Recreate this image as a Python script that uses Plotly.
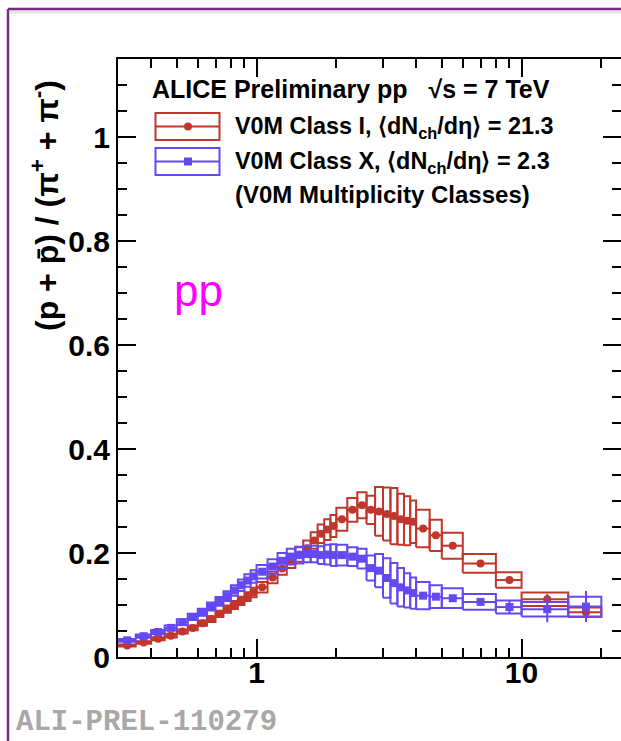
import numpy as np
import plotly.graph_objects as go

# pT bin edges (GeV/c)
pt_lo = [0.30, 0.35, 0.40, 0.45, 0.50, 0.55, 0.60, 0.65, 0.70, 0.75, 0.80, 0.85, 0.90, 0.95,
         1.0, 1.1, 1.2, 1.3, 1.4, 1.5, 1.6, 1.7, 1.8, 1.9,
         2.0, 2.2, 2.4, 2.6, 2.8, 3.0, 3.2, 3.4, 3.6, 3.8,
         4.0, 4.5, 5.0, 6.0, 8.0, 10.0, 15.0]
pt_hi = [0.35, 0.40, 0.45, 0.50, 0.55, 0.60, 0.65, 0.70, 0.75, 0.80, 0.85, 0.90, 0.95, 1.00,
         1.1, 1.2, 1.3, 1.4, 1.5, 1.6, 1.7, 1.8, 1.9, 2.0,
         2.2, 2.4, 2.6, 2.8, 3.0, 3.2, 3.4, 3.6, 3.8, 4.0,
         4.5, 5.0, 6.0, 8.0, 10.0, 15.0, 20.0]

# V0M Class I, <dNch/deta> = 21.3
ratio_I = [0.022, 0.028, 0.035, 0.041, 0.049, 0.056, 0.065, 0.073, 0.083, 0.092, 0.100, 0.108, 0.116, 0.124,
           0.134, 0.153, 0.170, 0.184, 0.197, 0.209, 0.224, 0.237, 0.245, 0.252,
           0.265, 0.283, 0.292, 0.283, 0.280, 0.275, 0.271, 0.265, 0.262, 0.260,
           0.247, 0.234, 0.214, 0.180, 0.148, 0.111, 0.086]
sys_I = [0.0020, 0.0025, 0.0030, 0.0035, 0.0040, 0.0045, 0.0050, 0.0055, 0.0060, 0.0070, 0.0075, 0.0080, 0.0085, 0.0090,
         0.010, 0.011, 0.012, 0.013, 0.014, 0.015, 0.016, 0.018, 0.020, 0.021,
         0.022, 0.023, 0.025, 0.027, 0.047, 0.051, 0.054, 0.049, 0.047, 0.041,
         0.036, 0.030, 0.025, 0.018, 0.015, 0.013, 0.009]
stat_I = [0.0] * 38 + [0.006, 0.010, 0.015]

# V0M Class X, <dNch/deta> = 2.3
ratio_X = [0.032, 0.040, 0.048, 0.056, 0.067, 0.077, 0.086, 0.097, 0.107, 0.117, 0.128, 0.138, 0.147, 0.155,
           0.164, 0.174, 0.185, 0.193, 0.196, 0.198, 0.198, 0.196, 0.197, 0.196,
           0.196, 0.193, 0.189, 0.171, 0.166, 0.152, 0.142, 0.134, 0.128, 0.123,
           0.118, 0.116, 0.113, 0.106, 0.096, 0.092, 0.097]
sys_X = [0.0026, 0.0032, 0.0038, 0.0045, 0.0054, 0.0060, 0.0069, 0.0078, 0.0086, 0.0094, 0.010, 0.011, 0.012, 0.012,
         0.013, 0.014, 0.015, 0.015, 0.016, 0.016, 0.016, 0.017, 0.019, 0.021,
         0.020, 0.018, 0.019, 0.024, 0.032, 0.038, 0.039, 0.037, 0.033, 0.030,
         0.026, 0.022, 0.019, 0.015, 0.0125, 0.014, 0.019]
stat_X = [0.0] * 38 + [0.012, 0.025, 0.030]

x_major = [1, 10]
x_major_text = ["1", "10"]
x_minor = [0.3, 0.4, 0.5, 0.6, 0.7, 0.8, 0.9, 2, 3, 4, 5, 6, 7, 8, 9, 20]
y_major = [0, 0.2, 0.4, 0.6, 0.8, 1.0]
y_major_text = ["0", "0.2", "0.4", "0.6", "0.8", "1"]

RED = "#c0362c"
BLUE = "#6448f2"
FONT = "Liberation Sans"

W, H = 621, 741
L, R, T, B = 118, 621, 59, 657


def px2x(px):
    return (px - L) / (R - L)


def py2y(py):
    return (B - py) / (B - T)


def box_path(lo, hi, val, err):
    xs, ys = [], []
    for a, b, v, e in zip(lo, hi, val, err):
        xs += [a, b, b, a, a, None, a, b, None]
        ys += [v - e, v - e, v + e, v + e, v - e, None, v, v, None]
    return xs, ys


fig = go.Figure()

for lo, hi, val, sys_e, st, col, sym in [
    (pt_lo, pt_hi, ratio_I, sys_I, stat_I, RED, "circle"),
    (pt_lo, pt_hi, ratio_X, sys_X, stat_X, BLUE, "square"),
]:
    bx, by = box_path(lo, hi, val, sys_e)
    fig.add_trace(go.Scatter(x=bx, y=by, mode="lines", line=dict(color=col, width=2),
                             hoverinfo="skip", showlegend=False))
    centers = [(a + b) / 2 for a, b in zip(lo, hi)]
    fig.add_trace(go.Scatter(
        x=centers, y=val, mode="markers",
        marker=dict(symbol=sym, size=8, color=col),
        error_y=dict(type="data", array=st, visible=True, color=col, thickness=2, width=0),
        showlegend=False))

# empty trace carrying the mirrored top/right axes
fig.add_trace(go.Scatter(x=[], y=[], xaxis="x2", yaxis="y2", showlegend=False))

xr = [np.log10(0.3), np.log10(0.3) + (R - L) / 265.0]
yr = [0, 1.15]

xcommon = dict(type="log", range=xr, ticks="inside", tickvals=x_major, ticklen=18, tickwidth=2,
               tickcolor="black", showline=True, linewidth=2, linecolor="black", showgrid=False,
               zeroline=False,
               minor=dict(tickmode="array", tickvals=x_minor, ticks="inside", ticklen=9,
                          tickwidth=2, tickcolor="black", showgrid=False))
ycommon = dict(range=yr, ticks="inside", tickvals=y_major, ticklen=18, tickwidth=2, tickcolor="black",
               showgrid=False, zeroline=False,
               minor=dict(dtick=0.05, ticks="inside", ticklen=9, tickwidth=2, tickcolor="black",
                          showgrid=False))

fig.update_layout(
    width=W, height=H,
    margin=dict(l=L, r=W - R, t=T, b=H - B),
    paper_bgcolor="white", plot_bgcolor="white",
    xaxis=dict(**xcommon, ticktext=x_major_text, showticklabels=True, ticklabelstandoff=-12,
               tickfont=dict(family=FONT, size=30, color="black", weight="bold")),
    yaxis=dict(**ycommon, ticktext=y_major_text, showline=True, linewidth=2, linecolor="black",
               tickfont=dict(family=FONT, size=30, color="black", weight="bold")),
    xaxis2=dict(**xcommon, overlaying="x", side="top", anchor="y", showticklabels=False),
    yaxis2=dict(**ycommon, overlaying="y", side="right", anchor="x", showline=False,
                showticklabels=False),
    showlegend=False,
)

shapes = []
# outer frame
shapes.append(dict(type="line", xref="paper", yref="paper", x0=px2x(10), x1=px2x(640),
                   y0=py2y(12), y1=py2y(12), line=dict(color="#e4e4e4", width=3)))
shapes.append(dict(type="line", xref="paper", yref="paper", x0=px2x(8), x1=px2x(640),
                   y0=py2y(9), y1=py2y(9), line=dict(color="#7b2a86", width=2.5)))
shapes.append(dict(type="line", xref="paper", yref="paper", x0=px2x(8), x1=px2x(8),
                   y0=py2y(9), y1=py2y(760), line=dict(color="#7b2a86", width=2.5)))

# legend keys
for (ytop, ybot, col, sym) in [(113, 140, RED, "circle"), (148, 175, BLUE, "square")]:
    shapes.append(dict(type="rect", xref="paper", yref="paper", x0=px2x(155.5), x1=px2x(219.5),
                       y0=py2y(ybot), y1=py2y(ytop), line=dict(color=col, width=2)))
    ym = (ytop + ybot) / 2
    shapes.append(dict(type="line", xref="paper", yref="paper", x0=px2x(155.5), x1=px2x(219.5),
                       y0=py2y(ym), y1=py2y(ym), line=dict(color=col, width=2)))
    shapes.append(dict(type=sym if sym == "circle" else "rect", xref="paper", yref="paper",
                       x0=px2x(184), x1=px2x(192), y0=py2y(ym + 4), y1=py2y(ym - 4),
                       fillcolor=col, line=dict(color=col, width=0)))
fig.update_layout(shapes=shapes)

ann = []


def add_text(text, px, py, size, color="black", weight="bold", family=FONT, xanchor="left",
             angle=0):
    ann.append(dict(text=text, xref="paper", yref="paper", x=px2x(px), y=py2y(py),
                    xanchor=xanchor, yanchor="middle", showarrow=False, textangle=angle,
                    font=dict(family=family, size=size, color=color, weight=weight)))


add_text("ALICE Preliminary pp  \u00a0√s = 7 TeV", 150, 89, 25)
add_text("V0M Class I, ⟨dN<sub>ch</sub>/dη⟩ = 21.3", 233, 127, 23.4)
add_text("V0M Class X, ⟨dN<sub>ch</sub>/dη⟩ = 2.3", 233, 162, 23.4)
add_text("(V0M Multiplicity Classes)", 233, 195, 24)
add_text("pp", 198, 290, 44, color="#ff00ff", weight="normal", xanchor="center")
add_text("(p + p̄) / (π<sup>+</sup> + π<sup>-</sup>)", 45, 206, 32, xanchor="center", angle=-90)
add_text("ALI-PREL-110279", 14, 722, 29, color="#a8a8a8", family="Liberation Mono")
fig.update_layout(annotations=ann)

fig.write_html("out.html")
